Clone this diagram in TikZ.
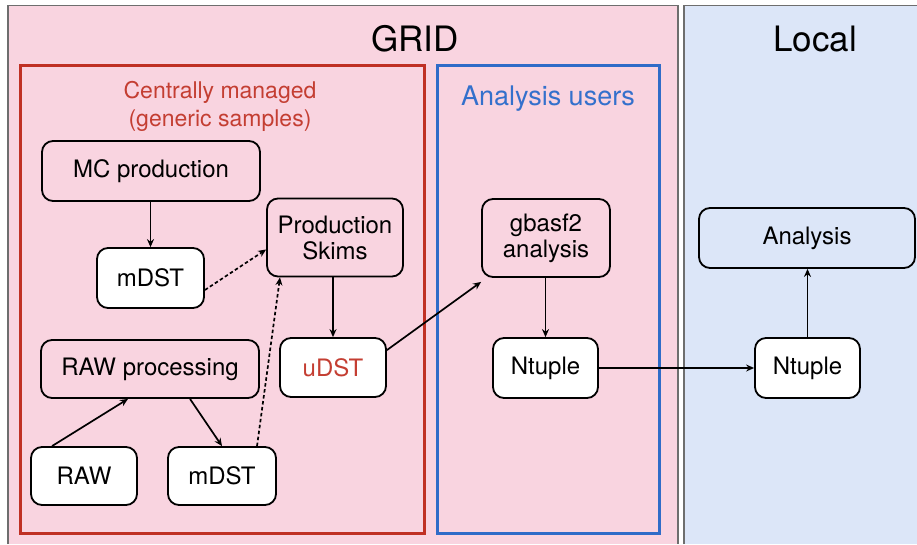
\documentclass[tikz,border=0pt]{standalone}
\usepackage{fontspec}
\setmainfont{TeX Gyre Heros}
\usetikzlibrary{arrows.meta}
\definecolor{pinkbg}{RGB}{249,212,224}
\definecolor{bluebg}{RGB}{220,230,248}
\definecolor{redframe}{RGB}{192,48,36}
\definecolor{redtxt}{RGB}{196,62,50}
\definecolor{blueframe}{RGB}{48,108,200}
\definecolor{bluetxt}{RGB}{52,112,204}
\definecolor{panelgray}{RGB}{110,110,110}
\tikzset{
  box/.style={draw=black, line width=1.8pt, rounded corners=11pt, font=\fontsize{24}{26}\selectfont, align=center, inner sep=0pt},
  pinkbox/.style={box, fill=pinkbg},
  whitebox/.style={box, fill=white},
  lbluebox/.style={box, fill=bluebg},
  arr/.style={-{Stealth[length=8pt,width=7pt]}, line width=1.7pt},
  dotarr/.style={arr, dash pattern=on 3.5pt off 2.5pt},
}
\begin{document}
\begin{tikzpicture}[x=1pt,y=-1pt]
\useasboundingbox (0,0) rectangle (917,544);
\fill[white] (0,0) rectangle (917,544);
% panels
\fill[pinkbg] (8,6) rectangle (678,544);
\fill[bluebg] (684,6) rectangle (917,544);
\draw[panelgray, line width=1.5pt] (8,544) -- (8,5.5) -- (678,5.5) -- (678,544);
\draw[panelgray, line width=1.5pt] (684,544) -- (684,5.5) -- (917,5.5);
\node (grid) at (415,39) {\fontsize{35}{40}\selectfont GRID};
\node (local) at (815,39) {\fontsize{35}{40}\selectfont Local};
% group boxes
\draw[redframe, line width=3pt] (20,65) rectangle (424,533);
\draw[blueframe, line width=3pt] (437,65) rectangle (659,533);
\node[text=redtxt, align=center, font=\fontsize{23}{28}\selectfont] (central) at (220,106) {Centrally managed\\(generic samples)};
\node[text=bluetxt, font=\fontsize{27}{30}\selectfont] (users) at (548,99) {Analysis users};
% nodes
\node[pinkbox, minimum width=218pt, minimum height=60pt] (mc) at (151,171) {MC production};
\node[whitebox, minimum width=107pt, minimum height=60pt] (mdst1) at (150.5,278) {mDST};
\node[pinkbox, minimum width=136pt, minimum height=78pt] (skims) at (335,237.5) {Production\\Skims};
\node[whitebox, minimum width=106pt, minimum height=59pt, text=redtxt] (udst) at (333,367.5) {uDST};
\node[pinkbox, minimum width=218pt, minimum height=58pt] (rawp) at (150,369) {RAW processing};
\node[whitebox, minimum width=106pt, minimum height=58pt] (raw) at (84,476) {RAW};
\node[whitebox, minimum width=108pt, minimum height=58pt] (mdst2) at (222,476) {mDST};
\node[pinkbox, minimum width=128pt, minimum height=78pt] (gbasf) at (546,238) {gbasf2\\analysis};
\node[whitebox, minimum width=105pt, minimum height=60pt] (nt1) at (545.5,368) {Ntuple};
\node[lbluebox, minimum width=216pt, minimum height=60pt] (ana) at (807,238) {Analysis};
\node[whitebox, minimum width=105pt, minimum height=60pt] (nt2) at (807.5,368) {Ntuple};
% connectors
\draw[arr] (mc.south -| mdst1.north) -- (mdst1.north);
\draw[dotarr] ([yshift=-12pt]mdst1.east) -- ([yshift=-12pt]skims.west);
\draw[dotarr] ([xshift=35pt]mdst2.north) -- ([xshift=-55pt]skims.south);
\draw[arr] (skims.south -| udst.north) -- (udst.north);
\draw[arr] ([xshift=-32pt]raw.north) -- ([xshift=-22pt]rawp.south);
\draw[arr] ([xshift=40pt]rawp.south) -- (mdst2.north);
\draw[arr] ([yshift=-13pt]udst.north east) -- ([yshift=-4pt]gbasf.south west);
\draw[arr] (gbasf.south -| nt1.north) -- (nt1.north);
\draw[arr] (nt1.east) -- (nt2.west);
\draw[arr] (nt2.north) -- (ana.south -| nt2.north);
\end{tikzpicture}
\end{document}
